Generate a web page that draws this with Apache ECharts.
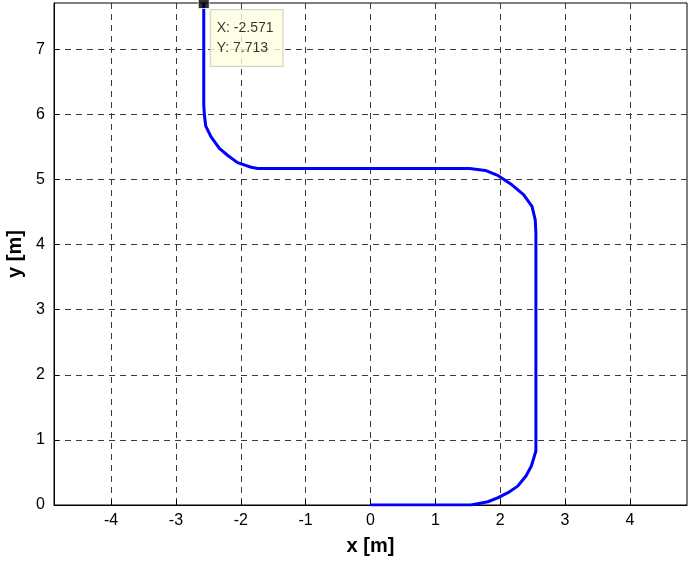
<!DOCTYPE html>
<html>
<head>
<meta charset="utf-8">
<script src="https://cdn.jsdelivr.net/npm/echarts@6/dist/echarts.min.js"></script>
<style>
  html, body { margin: 0; padding: 0; background: #fff; }
  #chart { width: 690px; height: 565px; }
</style>
</head>
<body>
<div id="chart"></div>
<script>
// path of the robot
var pathX = [0, 1.55, 1.81, 1.96, 2.12, 2.27, 2.40, 2.48, 2.52, 2.55, 2.55, 2.54, 2.49, 2.36, 2.18, 1.97, 1.77, 1.53, -1.74, -1.84, -2.05, -2.20, -2.33, -2.46, -2.54, -2.56, -2.571, -2.571];
var pathY = [0, 0, 0.05, 0.11, 0.19, 0.29, 0.45, 0.60, 0.73, 0.83, 4.18, 4.38, 4.59, 4.77, 4.92, 5.06, 5.14, 5.17, 5.17, 5.19, 5.26, 5.37, 5.48, 5.66, 5.82, 5.98, 6.15, 7.713];
var xTicks = [-4, -3, -2, -1, 0, 1, 2, 3, 4];
var yTicks = [0, 1, 2, 3, 4, 5, 6, 7];
var tipPoint = [-2.571, 7.713];

var path = pathX.map(function(x, i){ return [x, pathY[i]]; });

var font = 'Liberation Sans, Arial, sans-serif';
var gridLine = { show: true, lineStyle: { color: '#3a3a3a', type: [6, 5], width: 1 } };

var chart = echarts.init(document.getElementById('chart'), null, { renderer: 'canvas' });
chart.setOption({
  animation: false,
  grid: { left: 54, right: 3, top: 3, bottom: 60, outerBoundsMode: 'none', containLabel: false,
    show: true, borderColor: '#000', borderWidth: 1, backgroundColor: '#fff' },
  xAxis: {
    type: 'value', min: -4.88, max: 4.88,
    name: 'x [m]', nameLocation: 'middle', nameGap: 31,
    nameTextStyle: { fontFamily: font, fontSize: 20, fontWeight: 'bold', color: '#000' },
    axisLine: { show: true, onZero: false, lineStyle: { color: '#000' } },
    axisTick: { show: true, inside: true, length: 5, customValues: xTicks, lineStyle: { color: '#000' } },
    axisLabel: { customValues: xTicks, fontFamily: font, fontSize: 16, color: '#000', margin: 8 },
    splitLine: gridLine
  },
  yAxis: {
    type: 'value', min: 0, max: 7.713,
    name: 'y [m]', nameLocation: 'middle', nameGap: 26,
    nameTextStyle: { fontFamily: font, fontSize: 20, fontWeight: 'bold', color: '#000' },
    axisLine: { show: true, onZero: false, lineStyle: { color: '#000' } },
    axisTick: { show: true, inside: true, length: 5, customValues: yTicks, lineStyle: { color: '#000' } },
    axisLabel: { customValues: yTicks, fontFamily: font, fontSize: 16, color: '#000', margin: 9 },
    splitLine: gridLine
  },
  series: [
    {
      type: 'line', data: path, showSymbol: false, smooth: false,
      lineStyle: { color: '#0000ff', width: 3 }
    },
    {
      type: 'scatter', data: [tipPoint], clip: false, symbol: 'rect', symbolSize: 11,
      itemStyle: { color: '#000', borderColor: '#ffffe1', borderWidth: 1 },
      label: {
        show: true, position: [13, 13], align: 'left', verticalAlign: 'top',
        formatter: 'X: ' + tipPoint[0].toFixed(3) + '\nY: ' + tipPoint[1].toFixed(3),
        fontFamily: font, fontSize: 14, color: '#000', lineHeight: 20,
        backgroundColor: '#ffffe1', borderColor: '#c8c8b0', borderWidth: 1,
        padding: [8, 9, 8, 6]
      },
      z: 5
    }
  ]
});
</script>
</body>
</html>
